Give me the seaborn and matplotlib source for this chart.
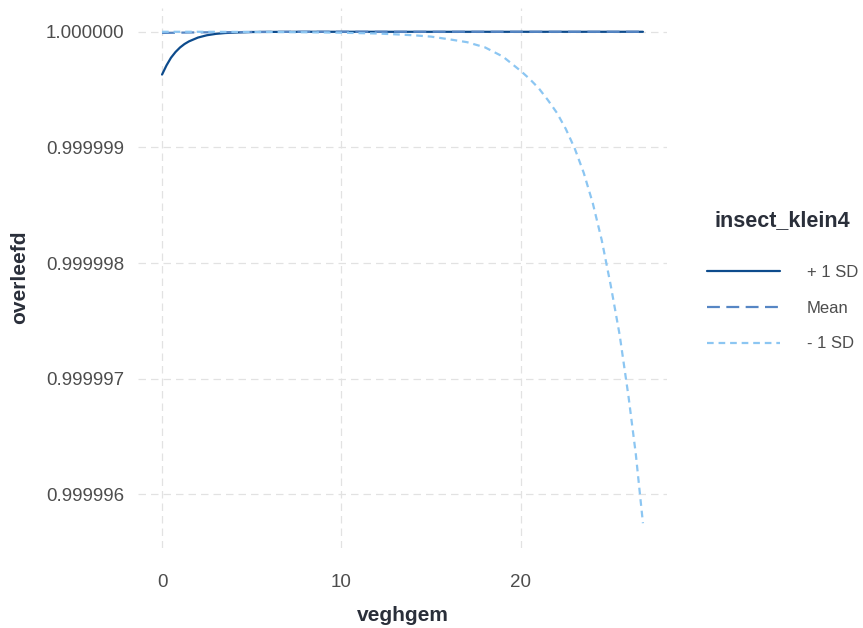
import matplotlib
matplotlib.use("Agg")
import matplotlib.pyplot as plt
import matplotlib.ticker as mticker
import numpy as np
import pandas as pd
import seaborn as sns

# Predicted survival (overleefd) against vegetation height (veghgem)
# for three levels of insect_klein4.
x_plus = [0, 0.25, 0.5, 0.75, 1, 1.25, 1.5, 2, 2.5, 3, 3.5, 4, 5, 6, 8, 10, 15, 20, 26.8]
y_plus = [0.99999963, 0.99999971, 0.999999776, 0.999999825, 0.999999864,
          0.999999894, 0.999999917, 0.99999995, 0.99999997, 0.999999982,
          0.999999989, 0.999999993, 0.999999998, 0.999999999, 1.0, 1.0,
          1.0, 1.0, 1.0]

x_mean = [0, 2, 4, 6, 10, 15, 20, 26.8]
y_mean = [0.99999999, 0.999999995, 0.999999997, 0.999999999, 1.0, 1.0, 1.0, 1.0]

x_minus = [0, 2, 4, 6, 8, 10, 12, 13, 14, 15, 16, 17, 18, 19, 20, 20.5, 21,
           21.5, 22, 22.5, 23, 23.5, 24, 24.5, 25, 25.5, 26, 26.4, 26.8]
y_minus = [1.0, 1.0, 0.999999999, 0.999999998, 0.999999996, 0.999999992,
           0.999999985, 0.999999978, 0.99999997, 0.999999958, 0.999999935,
           0.99999991, 0.999999865, 0.999999785, 0.99999966, 0.99999959,
           0.99999951, 0.99999941, 0.9999993, 0.99999916, 0.99999899,
           0.99999878, 0.99999852, 0.9999982, 0.99999781, 0.99999738,
           0.99999684, 0.99999635, 0.99999575]

levels = ["+ 1 SD", "Mean", "- 1 SD"]
y_ticks = [0.999996, 0.999997, 0.999998, 0.999999, 1.000000]
x_ticks = [0, 10, 20]

df = pd.concat([
    pd.DataFrame({"veghgem": x_plus, "overleefd": y_plus, "insect_klein4": levels[0]}),
    pd.DataFrame({"veghgem": x_mean, "overleefd": y_mean, "insect_klein4": levels[1]}),
    pd.DataFrame({"veghgem": x_minus, "overleefd": y_minus, "insect_klein4": levels[2]}),
], ignore_index=True)

sns.set_theme(style="white")
plt.rcParams["font.family"] = ["Liberation Sans", "DejaVu Sans"]

palette = {"+ 1 SD": "#0d4b8c", "Mean": "#5686c4", "- 1 SD": "#8cc6f2"}
dashes = {"+ 1 SD": "", "Mean": (5.8, 2.9), "- 1 SD": (3.0, 2.2)}

fig = plt.figure(figsize=(8.63, 6.28), dpi=100)
ax = fig.add_axes([138 / 863, 1 - 547.5 / 628, (667 - 138) / 863, 540 / 628])

sns.lineplot(data=df, x="veghgem", y="overleefd", hue="insect_klein4",
             style="insect_klein4", hue_order=levels, style_order=levels,
             palette=palette, dashes=dashes, linewidth=1.6, ax=ax,
             legend="full", sort=True)

ax.set_xlim(-1.34, 28.14)
ax.set_ylim(0.99999554, 1.00000021)
ax.yaxis.set_major_locator(mticker.FixedLocator(y_ticks))
ax.yaxis.set_major_formatter(mticker.FormatStrFormatter("%.6f"))
ax.xaxis.set_major_locator(mticker.FixedLocator(x_ticks))
ax.xaxis.set_major_formatter(mticker.FormatStrFormatter("%d"))

ax.grid(True, which="major", color="#e2e2e2", linestyle=(0, (6, 4)), linewidth=0.9)
ax.set_axisbelow(True)
for s in ax.spines.values():
    s.set_visible(False)
ax.tick_params(axis="both", length=0, labelsize=13.5, labelcolor="#4d4d4d")
ax.tick_params(axis="x", pad=19)
ax.tick_params(axis="y", pad=10)

ax.set_xlabel("veghgem", fontsize=15, fontweight="bold", color="#2a2f3a", labelpad=11)
ax.set_ylabel("overleefd", fontsize=15, fontweight="bold", color="#2a2f3a", labelpad=12)

handles, labels = ax.get_legend_handles_labels()
ax.get_legend().remove()
leg = fig.legend(handles, labels, title="insect_klein4", loc="center left",
                 bbox_to_anchor=(700 / 863, 1 - 281 / 628), frameon=False,
                 fontsize=12, title_fontsize=15.5, handlelength=4.4,
                 handletextpad=1.6, labelspacing=1.25, borderaxespad=0)
leg.get_title().set_fontweight("bold")
leg.get_title().set_color("#2a2f3a")
for t in leg.get_texts():
    t.set_color("#4d4d4d")
leg._legend_box.sep = 24

fig.savefig("out.png", dpi=100, facecolor="white")
